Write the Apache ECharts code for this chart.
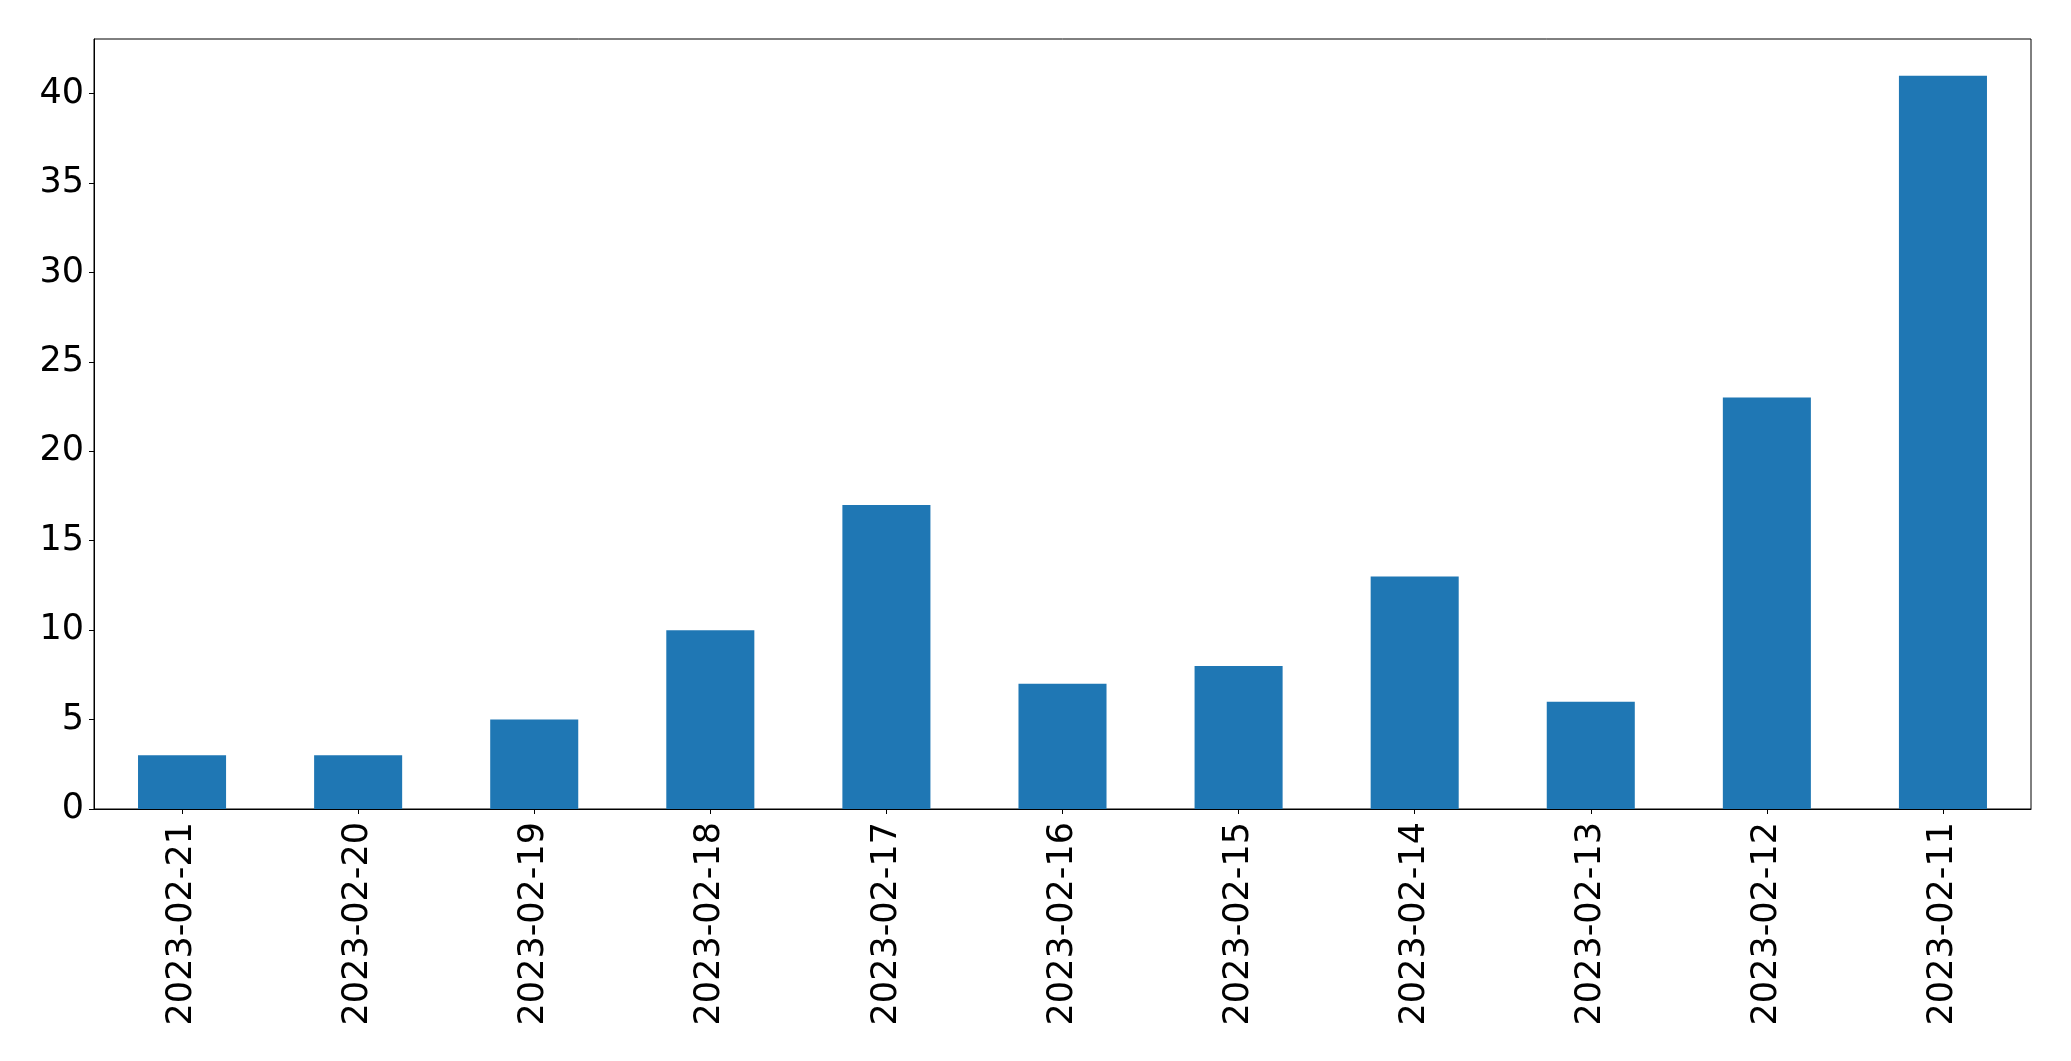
<!DOCTYPE html>
<html>
<head>
<meta charset="utf-8">
<script src="https://cdn.jsdelivr.net/npm/echarts@6/dist/echarts.min.js"></script>
<style>
html,body{margin:0;padding:0;background:#fff;}
#chart{width:2071px;height:1061px;}
</style>
</head>
<body>
<div id="chart"></div>
<script>
const categories = ['2023-02-21','2023-02-20','2023-02-19','2023-02-18','2023-02-17','2023-02-16','2023-02-15','2023-02-14','2023-02-13','2023-02-12','2023-02-11'];
const values = [3,3,5,10,17,7,8,13,6,23,41];
const yTicks = [0,5,10,15,20,25,30,35,40];
const yMax = 43.05;

const chart = echarts.init(document.getElementById('chart'), null, {renderer:'canvas'});
const font = 'DejaVu Sans';
chart.setOption({
  animation:false,
  backgroundColor:'#fff',
  grid:{left:94,right:40,top:39,bottom:252,show:true,borderColor:'#000',borderWidth:1,backgroundColor:'transparent'},
  xAxis:{
    type:'category',
    data:categories,
    boundaryGap:true,
    axisLine:{show:true,lineStyle:{color:'#000',width:1}},
    axisTick:{show:true,alignWithLabel:true,length:5,lineStyle:{color:'#000',width:1}},
    axisLabel:{rotate:90,fontFamily:font,fontSize:35,color:'#000',margin:13,interval:0},
    splitLine:{show:false}
  },
  yAxis:{
    type:'value',
    min:0,
    max:yMax,
    interval:5,
    axisLine:{show:true,lineStyle:{color:'#000',width:1}},
    axisTick:{show:true,length:5,lineStyle:{color:'#000',width:1},customValues:yTicks},
    axisLabel:{fontFamily:font,fontSize:35,color:'#000',margin:10,customValues:yTicks},
    splitLine:{show:false}
  },
  series:[{
    type:'bar',
    data:values,
    barWidth:'50%',
    itemStyle:{color:'#1f77b4'}
  }]
});
</script>
</body>
</html>
